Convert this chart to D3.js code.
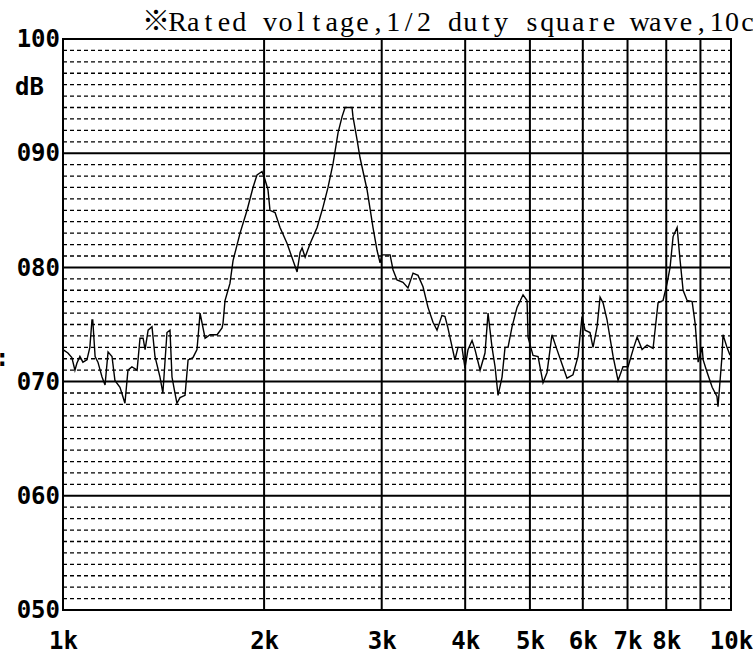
<!DOCTYPE html>
<html>
<head>
<meta charset="utf-8">
<script src="https://cdn.jsdelivr.net/npm/d3@7"></script>
<style>
    body { margin: 0; background: #fff; }
    #chart { width: 753px; height: 654px; overflow: hidden; }
</style>
</head>
<body>
<div id="chart"></div>
<script>
//Datos (frecuencia en Hz, nivel en dB)
const freqs = [1000, 1017, 1031, 1042, 1049, 1060, 1071, 1086, 1097, 1105, 1108, 1117, 1128, 1144, 1156, 1168, 1184, 1196, 1217, 1238,
    1251, 1268, 1291, 1304, 1318, 1327, 1341, 1359, 1373, 1397, 1411, 1431, 1446, 1456, 1471, 1481, 1497, 1523, 1539, 1565,
    1587, 1604, 1632, 1660, 1701, 1730, 1736, 1748, 1778, 1797, 1841, 1886, 1925, 1952, 1986, 2006, 2027, 2041, 2077, 2113,
    2165, 2210, 2241, 2264, 2280, 2304, 2344, 2401, 2451, 2493, 2537, 2581, 2617, 2644, 2708, 2717, 2755, 2784, 2852, 2911,
    2952, 2983, 3003, 3088, 3119, 3162, 3228, 3284, 3342, 3400, 3459, 3519, 3580, 3630, 3692, 3731, 3769, 3861, 3902, 3956,
    3997, 4039, 4096, 4138, 4211, 4283, 4328, 4388, 4434, 4480, 4542, 4589, 4637, 4701, 4783, 4883, 4951, 4968, 5054, 5142,
    5231, 5304, 5395, 5489, 5603, 5681, 5800, 5902, 5983, 6046, 6151, 6215, 6302, 6368, 6434, 6523, 6660, 6775, 6893, 7013,
    7135, 7235, 7360, 7488, 7644, 7777, 7912, 8022, 8106, 8190, 8305, 8391, 8478, 8596, 8746, 8837, 8929, 9053, 9085, 9211,
    9372, 9528, 9562, 9694, 9728, 9863, 9966];
const levels = [72.8, 72.5, 72.1, 71.0, 71.6, 72.2, 71.7, 71.9, 73.0, 75.4, 75.4, 72.2, 71.7, 70.4, 69.7, 72.6, 72.2, 70.1, 69.5, 68.1,
    71.0, 71.3, 71.0, 73.8, 73.8, 72.8, 74.5, 74.8, 72.2, 70.4, 69.0, 74.3, 74.5, 70.4, 69.0, 68.1, 68.6, 68.8, 71.9, 72.1,
    72.8, 76.0, 73.8, 74.1, 74.1, 74.7, 75.1, 77.1, 78.6, 80.6, 83.0, 85.0, 87.0, 88.1, 88.4, 87.7, 86.8, 85.0, 84.8, 83.5,
    82.1, 80.6, 79.6, 81.3, 81.7, 80.9, 82.1, 83.5, 85.3, 87.0, 89.1, 91.8, 93.2, 94.0, 94.0, 93.2, 91.2, 89.6, 86.8, 83.5,
    81.5, 80.4, 81.1, 81.1, 79.8, 78.9, 78.7, 78.2, 79.5, 79.3, 78.3, 76.5, 75.2, 74.5, 75.8, 75.7, 74.7, 71.9, 73.0, 73.0,
    71.2, 72.8, 73.6, 72.8, 71.0, 72.5, 76.0, 73.0, 71.3, 68.8, 70.4, 73.0, 73.0, 74.8, 76.5, 77.6, 77.1, 73.9, 72.3, 72.2,
    69.9, 70.8, 74.1, 72.8, 71.3, 70.3, 70.6, 72.2, 75.7, 74.5, 74.3, 73.0, 74.8, 77.4, 76.9, 75.4, 72.2, 70.1, 71.3, 71.3,
    72.8, 73.9, 72.8, 73.2, 72.9, 76.9, 77.1, 78.6, 80.0, 82.7, 83.5, 80.6, 78.0, 77.1, 77.0, 75.1, 71.7, 73.0, 71.9, 70.8,
    69.5, 68.7, 67.8, 72.2, 74.1, 73.0, 72.3];

//Ejes y etiquetas
const xLabelValues = [1000, 2000, 3000, 4000, 5000, 6000, 7000, 8000, 10000];
const xLabels = ['1k', '2k', '3k', '4k', '5k', '6k', '7k', '8k', '10k'];
const xGridValues = [2000, 3000, 4000, 5000, 6000, 7000, 8000, 9000];
const yTicks = [50, 60, 70, 80, 90, 100];
const yUnit = 'dB';
const titleText = '※Rated voltage,1/2 duty square wave,10cm';

const data = freqs.map(function(f, i) { return { f: f, v: levels[i] }; });

///Valores iniciales de altura, anchura y márgenes
let margin = {top: 39, right: 22, bottom: 44, left: 63},
    width = 753 - margin.left - margin.right,
    height = 654 - margin.top - margin.bottom;

let root = d3.select('#chart')
    .append('svg')
        .attr('width', 753)
        .attr('height', 654);

root.append('rect').attr('width', 753).attr('height', 654).attr('fill', '#fff');

let svg = root.append('g')
    .attr('transform', 'translate(' + margin.left + ',' + margin.top + ')');

let x = d3.scaleLog()
    .domain([1000, 10000])
    .range([0, width]);

let y = d3.scaleLinear()
    .domain([50, 100])
    .range([height, 0]);

//Rejilla horizontal: discontinua cada dB, continua cada 10 dB
svg.append('g')
    .selectAll('line')
    .data(d3.range(51, 100).filter(function(d) { return d % 10 != 0; }))
    .enter()
    .append('line')
    .attr('x1', 0)
    .attr('x2', width)
    .attr('y1', function(d) { return y(d); })
    .attr('y2', function(d) { return y(d); })
    .attr('stroke', '#000')
    .attr('stroke-width', 1.3)
    .attr('stroke-dasharray', '4,3');

svg.append('g')
    .selectAll('line')
    .data(yTicks.slice(1, -1))
    .enter()
    .append('line')
    .attr('x1', 0)
    .attr('x2', width)
    .attr('y1', function(d) { return y(d); })
    .attr('y2', function(d) { return y(d); })
    .attr('stroke', '#000')
    .attr('stroke-width', 2);

//Rejilla vertical
svg.append('g')
    .selectAll('line')
    .data(xGridValues)
    .enter()
    .append('line')
    .attr('x1', function(d) { return x(d); })
    .attr('x2', function(d) { return x(d); })
    .attr('y1', 0)
    .attr('y2', height)
    .attr('stroke', '#000')
    .attr('stroke-width', 2);

//Marco
svg.append('rect')
    .attr('x', 0)
    .attr('y', 0)
    .attr('width', width)
    .attr('height', height)
    .attr('fill', 'none')
    .attr('stroke', '#000')
    .attr('stroke-width', 2);

//Curva de respuesta
let line = d3.line()
    .x(function(d) { return x(d.f); })
    .y(function(d) { return y(d.v); });

svg.append('path')
    .datum(data)
    .attr('d', line)
    .attr('fill', 'none')
    .attr('stroke', '#000')
    .attr('stroke-width', 1.4)
    .attr('stroke-linejoin', 'miter');

//Eje Y
let yAxis = svg.append('g')
    .call(d3.axisLeft(y).tickValues(yTicks).tickSize(0).tickPadding(3).tickFormat(d3.format('03d')));
yAxis.select('.domain').remove();
yAxis.selectAll('text')
    .attr('font-family', 'DejaVu Sans Mono')
    .attr('font-weight', 'bold')
    .attr('font-size', '24px')
    .attr('fill', '#000');

//Eje X
let xAxis = svg.append('g')
    .attr('transform', 'translate(0,' + height + ')')
    .call(d3.axisBottom(x).tickValues(xLabelValues).tickSize(0).tickPadding(22)
        .tickFormat(function(d, i) { return xLabels[i]; }));
xAxis.select('.domain').remove();
xAxis.selectAll('text')
    .attr('font-family', 'DejaVu Sans Mono')
    .attr('font-weight', 'bold')
    .attr('font-size', '24px')
    .attr('fill', '#000');

//Unidad
root.append('text')
    .attr('x', 15)
    .attr('y', 95)
    .attr('font-family', 'DejaVu Sans Mono')
    .attr('font-weight', 'bold')
    .attr('font-size', '24px')
    .text(yUnit);

//Restos de etiqueta cortada a la izquierda
root.append('text')
    .attr('x', -5)
    .attr('y', 366)
    .attr('font-family', 'DejaVu Sans Mono')
    .attr('font-weight', 'bold')
    .attr('font-size', '24px')
    .text(':');

//Título: serif de ancho fijo (cada carácter en su celda)
let title = root.append('text')
    .attr('y', 31)
    .attr('font-family', "'Liberation Serif', 'Noto Sans CJK JP', serif")
    .attr('font-size', '28px')
    .attr('text-anchor', 'middle')
    .attr('fill', '#000');

title.selectAll('tspan')
    .data(Array.from(titleText))
    .enter()
    .append('tspan')
    .attr('x', function(d, i) { return i == 0 ? 156 : 170 + 7.7 + (i - 1) * 15.4; })
    .text(function(d) { return d; });
</script>
</body>
</html>
